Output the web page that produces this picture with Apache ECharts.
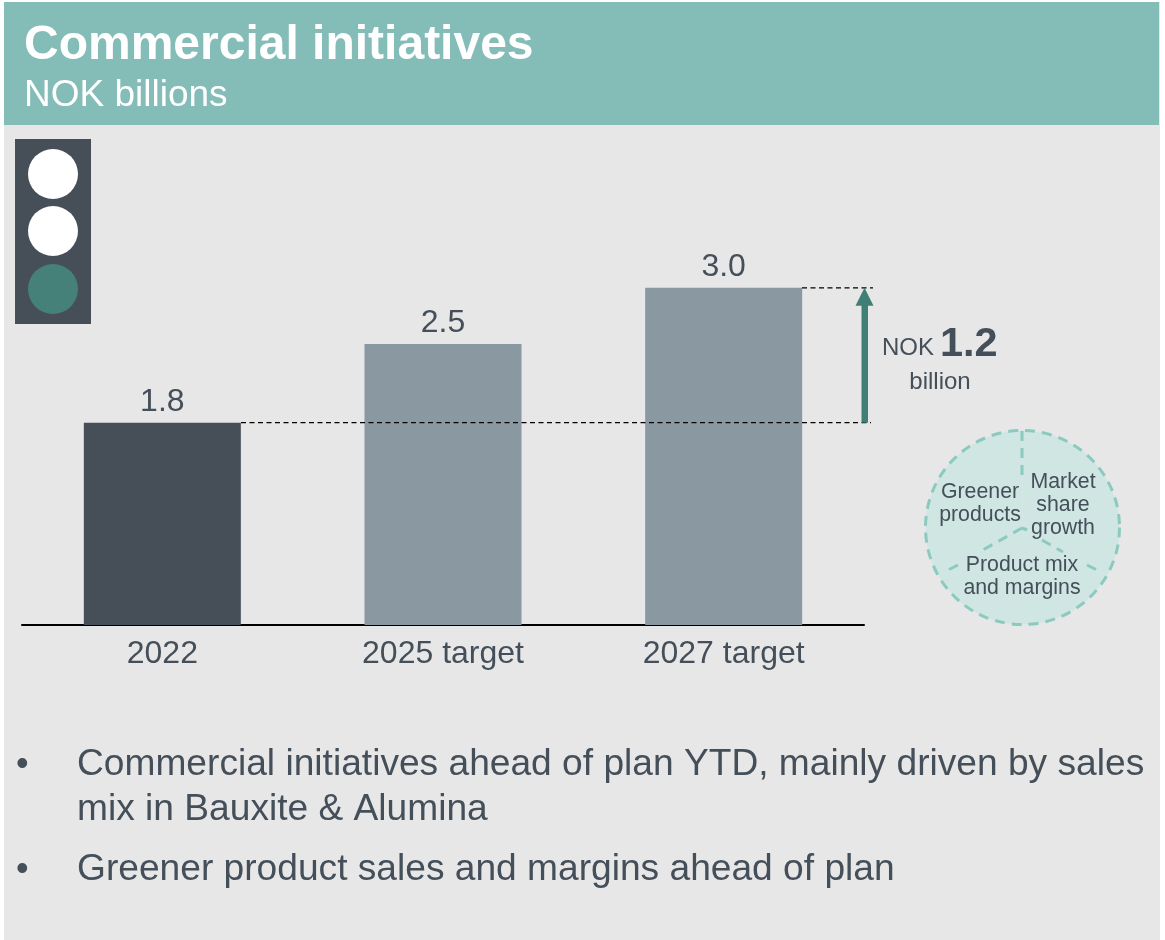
<!DOCTYPE html>
<html>
<head>
<meta charset="utf-8">
<style>
html, body { margin: 0; padding: 0; background: #fff; }
#chart { width: 1165px; height: 940px; }
</style>
<script src="https://cdn.jsdelivr.net/npm/echarts@6/dist/echarts.min.js"></script>
</head>
<body>
<div id="chart"></div>
<script>
const categories = ['2022', '2025 target', '2027 target']
const barValues = [1.8, 2.5, 3.0]
const guideValues = [1.8, 3.0]
const piePieces = ['Market\nshare\ngrowth', 'Product mix\nand margins', 'Greener\nproducts']
const pieShares = [1, 1, 1]
const bullets = [
  'Commercial initiatives ahead of plan YTD, mainly driven by sales\nmix in Bauxite & Alumina',
  'Greener product sales and margins ahead of plan'
]

const FONT = '"Liberation Sans", Arial, sans-serif'
const TEXT = '#454f5a'
const DASH = '#8ccabf'
const ARROW = '#3f7f76'
const barColors = ['#464e58', '#8a98a2', '#8a98a2']

const chart = echarts.init(document.getElementById('chart'))

function dashLine (x1, y1, x2, y2) {
  return {
    type: 'line',
    z: 5,
    shape: { x1, y1, x2, y2 },
    style: { stroke: DASH, lineWidth: 3, lineDash: [10, 7] }
  }
}

function label (text, x, y, size, extra) {
  return {
    type: 'text',
    z: 6,
    x,
    y,
    style: Object.assign({
      text,
      fill: TEXT,
      font: size + 'px ' + FONT,
      textVerticalAlign: 'middle'
    }, extra)
  }
}

const option = {
  animation: false,
  backgroundColor: '#fff',
  title: {
    text: 'Commercial initiatives',
    subtext: 'NOK billions',
    left: 24,
    top: 20,
    itemGap: 4,
    padding: 0,
    textStyle: { color: '#fff', fontFamily: FONT, fontWeight: 'bold', fontSize: 48, lineHeight: 52 },
    subtextStyle: { color: '#fff', fontFamily: FONT, fontSize: 37, lineHeight: 40 }
  },
  grid: { left: 22, right: 301, top: 175.4, bottom: 315 },
  xAxis: {
    type: 'category',
    data: categories,
    axisTick: { show: false },
    axisLine: { lineStyle: { color: '#000', width: 2 } },
    axisLabel: { color: TEXT, fontFamily: FONT, fontSize: 32, margin: 13, interval: 0 }
  },
  yAxis: { type: 'value', min: 0, max: 4, show: false },
  graphic: [
    { type: 'rect', z: -10, shape: { x: 4, y: 2, width: 1156, height: 938 }, style: { fill: '#e7e7e7' } },
    { type: 'rect', z: -9, shape: { x: 4, y: 2, width: 1155, height: 123 }, style: { fill: '#84bdb7' } },
    { type: 'rect', z: -8, shape: { x: 15, y: 139, width: 76, height: 185 }, style: { fill: '#464e58' } },
    { type: 'circle', z: -7, shape: { cx: 53, cy: 174, r: 25 }, style: { fill: '#fff' } },
    { type: 'circle', z: -7, shape: { cx: 53, cy: 231, r: 25 }, style: { fill: '#fff' } },
    { type: 'circle', z: -7, shape: { cx: 53, cy: 289, r: 25 }, style: { fill: '#458178' } },
    { type: 'circle', z: 5, shape: { cx: 1022.5, cy: 527.5, r: 97 }, style: { fill: 'none', stroke: DASH, lineWidth: 3, lineDash: [10, 7] } },
    dashLine(1022, 431, 1022, 480),
    dashLine(1022, 528, 981, 551),
    dashLine(958, 565, 948, 570),
    dashLine(1022, 528, 1027, 530),
    dashLine(1042, 540, 1063, 552),
    dashLine(1087, 565, 1097, 570),
    label('NOK', 882, 348, 24),
    label('1.2', 940, 345, 41.5, { font: 'bold 41.5px ' + FONT }),
    label('billion', 940, 382, 24, { textAlign: 'center' }),
    label('•', 16, 765, 36),
    label(bullets[0], 77, 787, 37.15, { lineHeight: 45 }),
    label('•', 16, 870, 36),
    label(bullets[1], 77, 870, 37.15)
  ],
  series: [
    {
      type: 'bar',
      data: barValues.map((v, i) => ({ value: v, itemStyle: { color: barColors[i] } })),
      barWidth: 157,
      label: {
        show: true,
        position: 'top',
        distance: 5,
        color: TEXT,
        fontFamily: FONT,
        fontSize: 32,
        formatter: p => p.value.toFixed(1)
      }
    },
    {
      // dotted guides and the arrow between them, y comes from the value axis
      type: 'custom',
      data: guideValues.map((v, i) => [i, v]),
      clip: false,
      silent: true,
      z: 4,
      renderItem (params, api) {
        const y = api.coord([0, api.value(1)])[1]
        const isTop = params.dataIndex === 1
        const children = [{
          type: 'line',
          shape: { x1: isTop ? 802 : 241, y1: y, x2: isTop ? 873 : 871, y2: y },
          style: { stroke: '#000', lineWidth: 1.2, lineDash: [5, 3.5] }
        }]
        if (isTop) {
          const low = api.coord([0, guideValues[0]])[1]
          children.push({
            type: 'rect',
            shape: { x: 861.5, y: y + 14, width: 6.5, height: low - y - 14 },
            style: { fill: ARROW }
          }, {
            type: 'polygon',
            shape: { points: [[864.5, y], [873.5, y + 18], [855.5, y + 18]] },
            style: { fill: ARROW }
          })
        }
        return { type: 'group', children }
      }
    },
    {
      type: 'pie',
      center: [1022.5, 527.5],
      radius: [0, 97],
      startAngle: 90,
      silent: true,
      z: 3,
      itemStyle: { color: '#cfe6e3' },
      label: {
        show: true,
        position: 'inside',
        color: TEXT,
        fontFamily: FONT,
        fontSize: 21.3,
        lineHeight: 23,
        formatter: '{b}'
      },
      labelLine: { show: false },
      labelLayout (params) {
        const spots = [[1063, 505], [1022, 577], [980, 504]]
        return { x: spots[params.dataIndex][0], y: spots[params.dataIndex][1], align: 'center', verticalAlign: 'middle' }
      },
      data: piePieces.map((name, i) => ({ name, value: pieShares[i] }))
    }
  ]
}

chart.setOption(option)
window.onresize = () => chart.resize()
</script>
</body>
</html>
